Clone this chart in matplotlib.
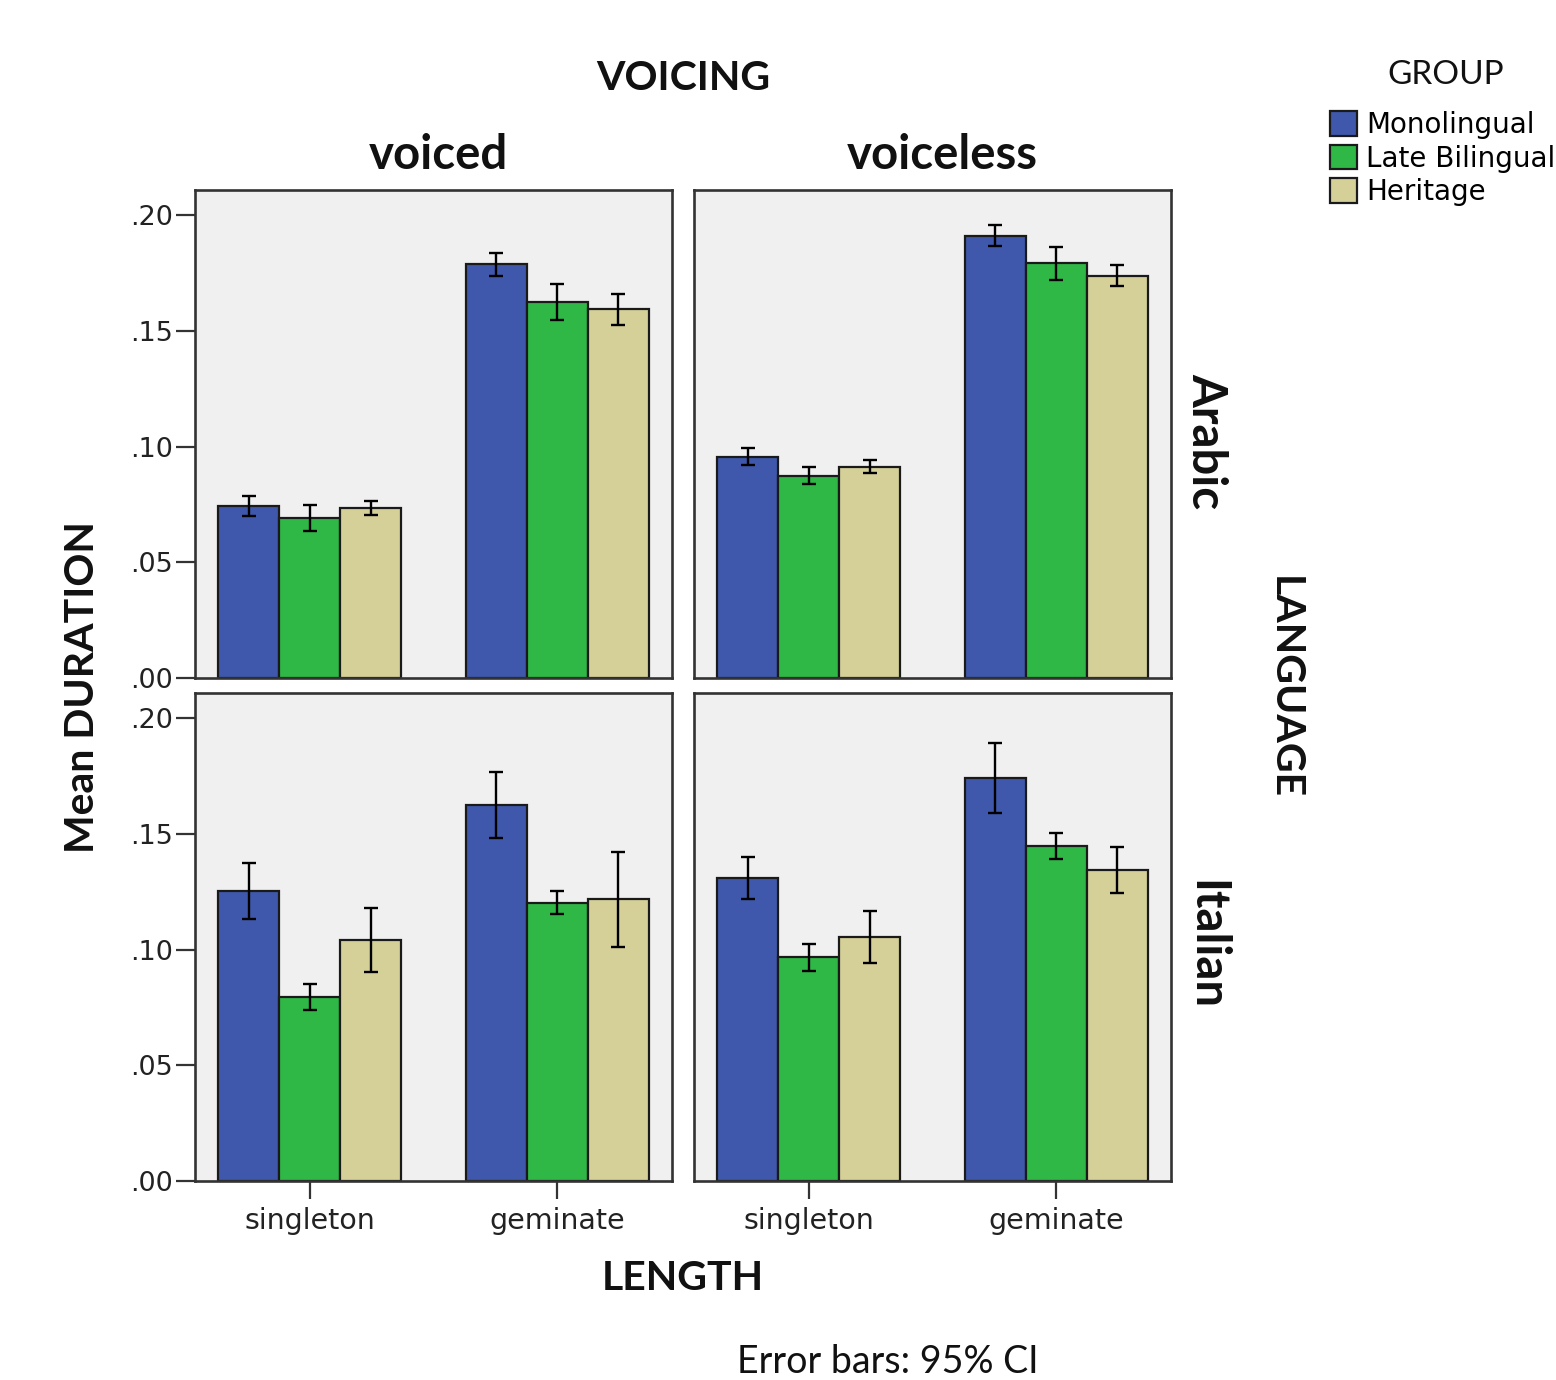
import matplotlib

matplotlib.use("Agg")
import matplotlib.pyplot as plt
import numpy as np
from matplotlib.ticker import FuncFormatter

# categories
groups = ["Monolingual", "Late Bilingual", "Heritage"]
lengths = ["singleton", "geminate"]
voicing = ["voiced", "voiceless"]
languages = ["Arabic", "Italian"]

# mean duration, rows = group, cols = length (singleton, geminate)
arabic_voiced_mean = [[0.0743, 0.1787], [0.0692, 0.1626], [0.0733, 0.1592]]
arabic_voiced_ci = [[0.0043, 0.0050], [0.0055, 0.0078], [0.0030, 0.0067]]
arabic_voiceless_mean = [[0.0956, 0.1911], [0.0873, 0.1791], [0.0913, 0.1737]]
arabic_voiceless_ci = [[0.0036, 0.0047], [0.0037, 0.0072], [0.0029, 0.0045]]
italian_voiced_mean = [[0.1253, 0.1623], [0.0793, 0.1202], [0.1041, 0.1217]]
italian_voiced_ci = [[0.0120, 0.0143], [0.0056, 0.0050], [0.0140, 0.0205]]
italian_voiceless_mean = [[0.1310, 0.1742], [0.0966, 0.1449], [0.1054, 0.1343]]
italian_voiceless_ci = [[0.0090, 0.0152], [0.0059, 0.0056], [0.0114, 0.0100]]

yticks = [0.0, 0.05, 0.10, 0.15, 0.20]

panel_data = {
    ("Arabic", "voiced"): (arabic_voiced_mean, arabic_voiced_ci),
    ("Arabic", "voiceless"): (arabic_voiceless_mean, arabic_voiceless_ci),
    ("Italian", "voiced"): (italian_voiced_mean, italian_voiced_ci),
    ("Italian", "voiceless"): (italian_voiceless_mean, italian_voiceless_ci),
}

COLORS = ["#3F58AC", "#30B847", "#D5CF98"]
PANEL_BG = "#F0F0F0"
EDGE = "#1A1A1A"
FRAME = "#333333"
BAR_W = 0.247

W, H = 1556, 1380
fig = plt.figure(figsize=(W / 100, H / 100), dpi=100)

col_x = [195 / W, 694 / W]
row_y = [1 - 678 / H, 1 - 1181 / H]
pw, ph = 477 / W, 488 / H

fmt = FuncFormatter(lambda v, p: f"{v:.2f}".lstrip("0"))
handles = None

for ri, lang in enumerate(languages):
    for ci, voi in enumerate(voicing):
        ax = fig.add_axes([col_x[ci], row_y[ri], pw, ph])
        ax.set_facecolor(PANEL_BG)
        means, cis = panel_data[(lang, voi)]
        x = np.arange(len(lengths))
        bars = []
        for gi, name in enumerate(groups):
            b = ax.bar(
                x + (gi - 1) * BAR_W,
                means[gi],
                BAR_W,
                yerr=cis[gi],
                color=COLORS[gi],
                edgecolor=EDGE,
                linewidth=1.6,
                label=name,
                error_kw=dict(ecolor="black", elinewidth=1.7, capsize=5, capthick=1.7),
                zorder=2,
            )
            bars.append(b)
        if handles is None:
            handles = bars

        ax.set_xlim(-0.465, 1.465)
        ax.set_ylim(0, 0.2108)
        ax.set_yticks(yticks)
        ax.yaxis.set_major_formatter(fmt)
        ax.set_xticks(x)
        ax.set_xticklabels(lengths)
        for sp in ax.spines.values():
            sp.set_color(FRAME)
            sp.set_linewidth(1.9)

        ax.tick_params(axis="y", direction="out", length=14, width=1.6, color=FRAME,
                       labelsize=19.5, pad=2, left=(ci == 0), labelleft=(ci == 0))
        ax.tick_params(axis="x", direction="out", length=13, width=1.6, color=FRAME,
                       labelsize=20.5, pad=6, bottom=(ri == 1), labelbottom=(ri == 1))
        for lab in ax.get_xticklabels() + ax.get_yticklabels():
            lab.set_color("#222222")

title_font = dict(family="Lato", weight="bold", color="#111111")

fig.text(683 / W, 1 - 78 / H, "VOICING", ha="center", va="center", fontsize=29.5, **title_font)
fig.text(438 / W, 1 - 155 / H, "voiced", ha="center", va="center", fontsize=34, **title_font)
fig.text(942 / W, 1 - 155 / H, "voiceless", ha="center", va="center", fontsize=34, **title_font)
fig.text(1206 / W, 1 - 441 / H, "Arabic", ha="center", va="center", rotation=-90, fontsize=34, **title_font)
fig.text(1206 / W, 1 - 945 / H, "Italian", ha="center", va="center", rotation=-90, fontsize=34, **title_font)
fig.text(1284 / W, 1 - 688 / H, "LANGUAGE", ha="center", va="center", rotation=-90, fontsize=29.5, **title_font)
fig.text(83 / W, 1 - 687 / H, "Mean DURATION", ha="center", va="center", rotation=90, fontsize=29.5, **title_font)
fig.text(683 / W, 1 - 1278 / H, "LENGTH", ha="center", va="center", fontsize=29.5, **title_font)
fig.text(737 / W, 1 - 1362 / H, "Error bars: 95% CI", ha="left", va="center", fontsize=27,
         family="Lato", color="#111111")

# legend
fig.text(1446 / W, 1 - 75 / H, "GROUP", ha="center", va="center", fontsize=24,
         family="Lato", color="#111111")
fig.legend(
    handles=handles,
    labels=groups,
    loc="upper left",
    bbox_to_anchor=(1330 / W, 1 - 111 / H),
    frameon=False,
    fontsize=20,
    handlelength=0.97,
    handleheight=1.0,
    handletextpad=0.33,
    labelspacing=0.2,
    borderaxespad=0,
    borderpad=0,
)

fig.savefig("out.png", dpi=100)
